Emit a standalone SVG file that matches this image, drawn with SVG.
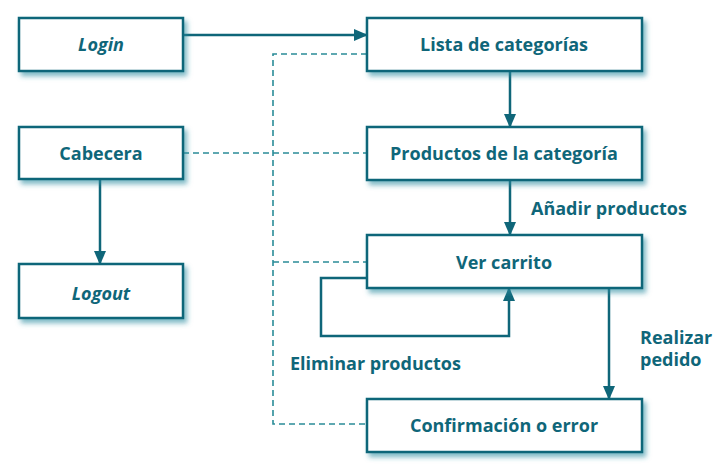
<svg xmlns="http://www.w3.org/2000/svg" width="727" height="468" viewBox="0 0 727 468">
<defs>
<filter id="sh" x="-10%" y="-20%" width="130%" height="160%">
<feGaussianBlur in="SourceAlpha" stdDeviation="2.5"/>
<feOffset dx="3" dy="4" result="b"/>
<feFlood flood-color="#2a8ca0" flood-opacity="0.6"/>
<feComposite in2="b" operator="in"/>
<feMerge><feMergeNode/><feMergeNode in="SourceGraphic"/></feMerge>
</filter>
<marker id="ah" markerWidth="14" markerHeight="12" refX="13" refY="6" orient="auto" markerUnits="userSpaceOnUse">
<path d="M0,0 L14,6 L0,12 Z" fill="#0f6679"/>
</marker>
</defs>
<style>
.box{fill:#fff;stroke:#0f6679;stroke-width:2.5;filter:url(#sh)}
.t{font-family:"Open Sans","DejaVu Sans",sans-serif;font-weight:700;font-size:18px;fill:#0f6679;text-anchor:middle}
.l{font-family:"Open Sans","DejaVu Sans",sans-serif;font-weight:700;font-size:18px;fill:#0f6679}
.i{font-style:italic}
.c{fill:none;stroke:#0f6679;stroke-width:2.5}
.d{fill:none;stroke:#2a8c98;stroke-width:1.6;stroke-dasharray:6,4}
</style>
<g id="connectors">
<path class="d" d="M367,54 H273 V424 H367"/>
<path class="d" d="M273,262 H367"/>
<path class="d" d="M183,153 H367"/>
<path class="c" d="M183,35 H367" marker-end="url(#ah)"/>
<path class="c" d="M510,71 V127" marker-end="url(#ah)"/>
<path class="c" d="M510,180 V235" marker-end="url(#ah)"/>
<path class="c" d="M367,278 H321 V336 H509 V288" marker-end="url(#ah)"/>
<path class="c" d="M609,288 V399" marker-end="url(#ah)"/>
<path class="c" d="M100,179 V264" marker-end="url(#ah)"/>
<text class="l" x="531" y="215">Añadir productos</text>
<text class="l" x="290" y="370">Eliminar productos</text>
<text class="l" x="640" y="344">Realizar</text>
<text class="l" x="640" y="366">pedido</text>
</g>
<g id="login"><rect class="box" x="19" y="18" width="164" height="53"/><text class="t i" x="101" y="51">Login</text></g>
<g id="cabecera"><rect class="box" x="19" y="127" width="164" height="52"/><text class="t" x="101" y="160">Cabecera</text></g>
<g id="logout"><rect class="box" x="19" y="264" width="164" height="54"/><text class="t i" x="101" y="300">Logout</text></g>
<g id="lista"><rect class="box" x="367" y="18" width="275" height="53"/><text class="t" x="504" y="51">Lista de categorías</text></g>
<g id="productos"><rect class="box" x="367" y="127" width="275" height="53"/><text class="t" x="504" y="160">Productos de la categoría</text></g>
<g id="carrito"><rect class="box" x="367" y="235" width="275" height="53"/><text class="t" x="504" y="269">Ver carrito</text></g>
<g id="confirmacion"><rect class="box" x="367" y="399" width="275" height="53"/><text class="t" x="504" y="432">Confirmación o error</text></g>
</svg>
